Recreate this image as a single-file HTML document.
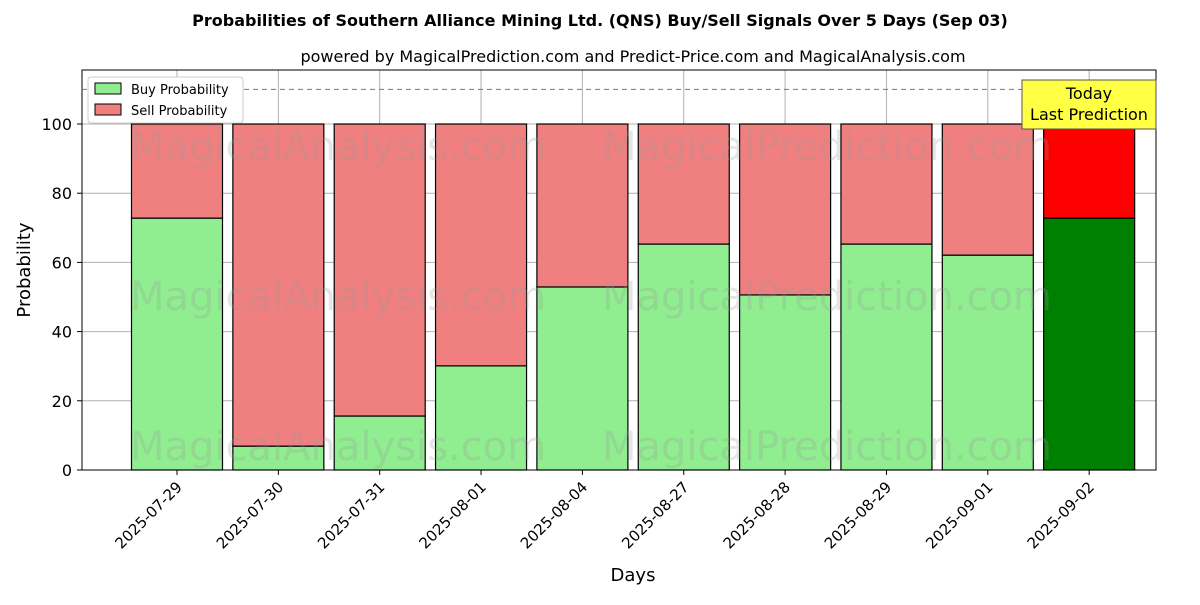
<!DOCTYPE html>
<html><head><meta charset="utf-8"><style>body{margin:0;background:#fff}svg{font-family:"DejaVu Sans","Liberation Sans",sans-serif}</style></head>
<body>
<svg id="chart" width="1200" height="600">
<text x="600" y="26" text-anchor="middle" font-size="16" font-weight="bold">Probabilities of Southern Alliance Mining Ltd. (QNS) Buy/Sell Signals Over 5 Days (Sep 03)</text>
<text x="633" y="62" text-anchor="middle" font-size="16">powered by MagicalPrediction.com and Predict-Price.com and MagicalAnalysis.com</text>
<g id="grid"></g><g id="bars"></g><g id="wm" font-size="40" fill="#999" fill-opacity="0.25"></g>
<rect x="82" y="70" width="1074" height="400" fill="none" stroke="#000"/>
<g id="axes"></g>
<text x="30" y="270" transform="rotate(-90 30 270)" text-anchor="middle" font-size="18">Probability</text>
<text x="633" y="581" text-anchor="middle" font-size="18">Days</text>
<g>
<rect x="88" y="77" width="155" height="46" fill="#fff" stroke="#ccc" rx="3"/>
<rect x="95" y="83" width="26" height="11" fill="lightgreen" stroke="#000"/>
<text x="131" y="94" font-size="13">Buy Probability</text>
<rect x="95" y="104" width="26" height="11" fill="lightcoral" stroke="#000"/>
<text x="131" y="115" font-size="13">Sell Probability</text>
</g>
<g>
<rect x="1022" y="80" width="134" height="49" fill="#ffff44" stroke="#555"/>
<text x="1089" y="99" text-anchor="middle" font-size="16">Today</text>
<text x="1089" y="120" text-anchor="middle" font-size="16">Last Prediction</text>
</g>
</svg>
<script>
const categories=["2025-07-29","2025-07-30","2025-07-31","2025-08-01","2025-08-04","2025-08-27","2025-08-28","2025-08-29","2025-09-01","2025-09-02"];
const buyValues=[72.8,6.9,15.6,30.1,52.9,65.3,50.6,65.3,62.1,72.8];
const yTicks=[0,20,40,60,80,100];
const NS="http://www.w3.org/2000/svg";
const x=i=>177+i*101.35, y=v=>470-v*3.46, bw=91;
function mk(p,t,a){const e=document.createElementNS(NS,t);for(const k in a)e.setAttribute(k,a[k]);document.getElementById(p).appendChild(e);return e;}
yTicks.forEach(t=>{
 let g=mk('grid','line',{x1:82,x2:1156,y1:y(t),y2:y(t),stroke:'#b0b0b0'});
 
 
 mk('axes','line',{x1:77,x2:82,y1:y(t),y2:y(t),stroke:'#000'});
 let l=mk('axes','text',{x:72,y:y(t)+6,'text-anchor':'end','font-size':16});l.textContent=t;
 
 
});
categories.forEach((c,i)=>{
 let g=mk('grid','line',{x1:x(i),x2:x(i),y1:70,y2:470,stroke:'#b0b0b0'});
 
 
 const last=i===categories.length-1;
 let b=mk('bars','rect',{x:x(i)-bw/2,y:y(buyValues[i]),width:bw,height:y(0)-y(buyValues[i]),fill:last?'green':'lightgreen',stroke:'#000','stroke-width':1.2});
 
 
 let s=mk('bars','rect',{x:x(i)-bw/2,y:y(100),width:bw,height:y(buyValues[i])-y(100),fill:last?'red':'lightcoral',stroke:'#000','stroke-width':1.2});
 
 
 mk('axes','line',{x1:x(i),x2:x(i),y1:470,y2:475,stroke:'#000'});
 let t=mk('axes','text',{x:x(i)+6,y:488,'text-anchor':'end','font-size':15,transform:`rotate(-45 ${x(i)+6} 488)`});t.textContent=c;
 
 
});
let d=mk('axes','line',{x1:82,x2:1156,y1:y(110),y2:y(110),stroke:'#777','stroke-dasharray':'5,4'});


[[130,160],[130,310],[130,460]].forEach(([a,b])=>{
 ['MagicalAnalysis.com','MagicalPrediction.com'].forEach((w,j)=>{let t=mk('wm','text',{x:a+j*472,y:b});t.textContent=j==0&&b==310?'MagicalAnalysis.com':w;
 
 });
});
</script>
</body></html>
